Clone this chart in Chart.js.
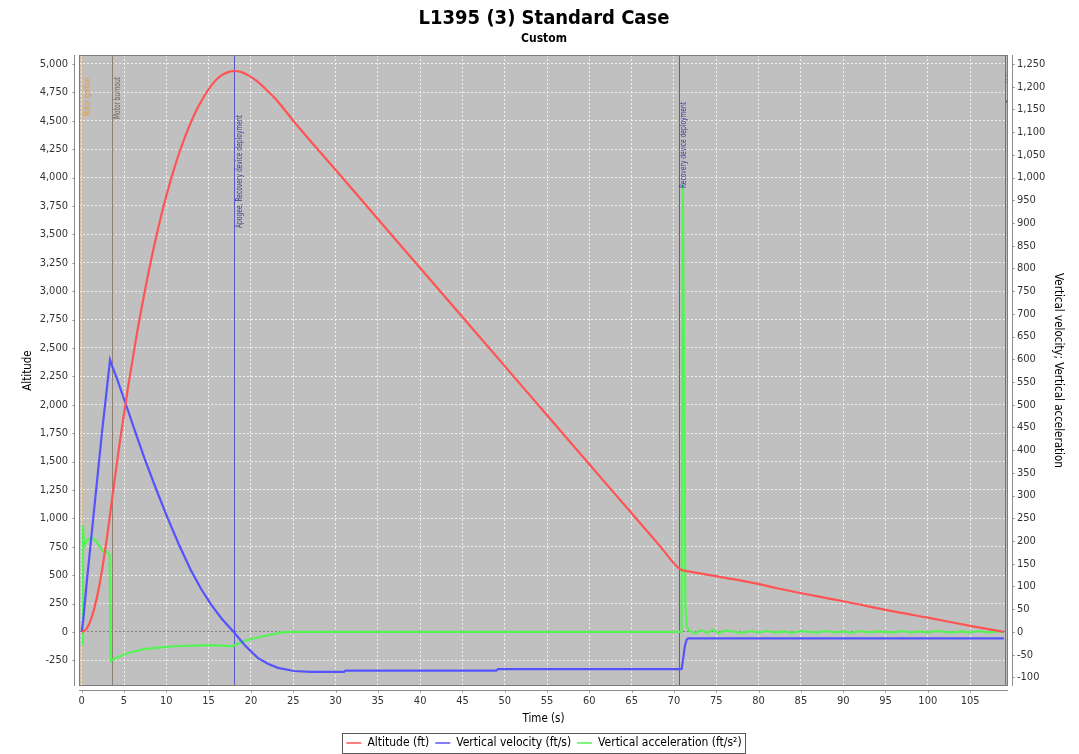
<!DOCTYPE html>
<html>
<head>
<meta charset="utf-8">
<title>L1395 (3) Standard Case</title>
<script src="https://cdn.jsdelivr.net/npm/chart.js@4.4.1/dist/chart.umd.min.js"></script>
<style>
  html, body { margin: 0; padding: 0; background: #ffffff; }
  #wrap { width: 1079px; height: 754px; }
</style>
</head>
<body>
<div id="wrap"><canvas id="flight" width="1079" height="754"></canvas></div>
<script>
  // --- Data ---
  var altTime = [0, 0.5, 1.0, 1.5, 2.0, 2.5, 3.0, 3.5, 4.0, 4.5, 5.5, 6.5, 7.5, 8.5, 9.5,
    10.5, 11.5, 12.5, 13.5, 14.5, 15.5, 16.5, 17.5, 18.05, 18.8, 19.8, 20.8, 22, 23.2, 25.1,
    30, 35, 40, 45, 50, 55, 60, 65, 68.3, 70.7, 71.2, 72.9, 75.4, 80.1, 82.3, 90, 96.7, 100, 105, 109];
  var altValues = [0, 20, 90, 210, 375, 590, 840, 1120, 1400, 1670, 2165, 2615, 3015, 3378, 3696,
    3973, 4212, 4414, 4583, 4720, 4827, 4899, 4933, 4938, 4930, 4895, 4844, 4760, 4668, 4491,
    4068, 3636, 3204, 2772, 2340, 1908, 1476, 1044, 760, 553, 540, 518, 485, 421, 382, 270, 170, 126, 53, 0];

  var velTime = [0, 0.2, 0.6, 1.2, 1.8, 2.4, 3.0, 3.35, 3.6, 4.2, 5.24, 6.3, 7.4, 8.8, 10.17,
    11.5, 12.9, 14.1, 15.3, 16.6, 17.97, 19.3, 20.8, 22, 23.2, 25.1, 27, 31, 31.2, 49,
    49.2, 70.9, 71.1, 71.3, 71.5, 71.7, 109];
  var velValues = [0, 30, 110, 220, 330, 440, 540, 599, 585, 556, 500, 442, 383, 314, 250,
    192, 136, 95, 60, 28, 0, -30, -57, -70, -79, -86, -88, -88, -85, -85,
    -82, -82, -57, -30, -17, -14, -14];

  var accTime = [0, 0.1, 0.15, 0.3, 0.6, 1.1, 1.7, 2.5, 3.1, 3.3, 3.42, 4.0, 5.05, 6.2, 7.4,
    9.3, 11.35, 13.3, 15.3, 17.85, 19.2, 20.4, 21.6, 22.6, 23.6, 25.1, 40, 55, 70.9, 71.05,
    71.25, 71.35, 71.5, 71.8, 72.5, 73.2, 73.9, 74.6, 75.3, 76,
    77, 78, 79, 80, 81, 82, 83, 84, 85, 86, 87, 88, 89, 90, 91, 92, 93, 94, 95, 96,
    97, 98, 99, 100, 101, 102, 103, 104, 105, 106, 107, 108, 109];
  var accValues = [-27, -27, 234, 190, 200, 208, 200, 178, 175, 170, -64, -58, -49, -43, -38,
    -34, -31, -30, -29, -31, -20, -14, -9, -5, -1, 0, 0, 0, 0, 985,
    400, 60, 13, 3, -3, 4, -2, 5, -3, 3,
    1, -2, 2, -1, 2, -1, 1, -2, 2, 0, -1, 2, -1, 1, -2, 2, -1, 1, 0, -1,
    2, -1, 1, -1, 2, 0, -1, 1, -1, 2, -1, 1, 0];

  // flight events (time in s)
  var eventTimes = [0, 3.59, 17.97, 70.54, 109.1];
  var eventNames = ['Motor ignition', 'Motor burnout', 'Apogee, Recovery device deployment',
    'Recovery device deployment', 'Ground hit'];

  // axis ticks
  var timeTicks = [0, 5, 10, 15, 20, 25, 30, 35, 40, 45, 50, 55, 60, 65, 70, 75, 80, 85, 90, 95, 100, 105];
  var altTicks = [-250, 0, 250, 500, 750, 1000, 1250, 1500, 1750, 2000, 2250, 2500, 2750, 3000,
    3250, 3500, 3750, 4000, 4250, 4500, 4750, 5000];
  var rateTicks = [-100, -50, 0, 50, 100, 150, 200, 250, 300, 350, 400, 450, 500, 550, 600, 650,
    700, 750, 800, 850, 900, 950, 1000, 1050, 1100, 1150, 1200, 1250];

  // --- Styling ---
  var FONT = '"DejaVu Sans Condensed", "DejaVu Sans", sans-serif';
  var evStyle = {
    line:  ['#f0b060', '#8c8074', '#5a5ac8', '#5a5ac8', '#707070'],
    text:  ['#e8983a', '#6a6058', '#3a3aa0', '#3a3a9a', '#505050'],
    dash:  [[2, 2], [], [], [], []],
    top:   [23, 22, 60, 47, 17],   // label end, px below plot top
    len:   [38, 42, 113, 86, 32]   // label length in px
  };

  function pts(xs, ys) {
    return xs.map(function (t, i) { return { x: t, y: ys[i] }; });
  }
  function fixTicks(list) {
    return function (scale) { scale.ticks = list.map(function (v) { return { value: v }; }); };
  }

  var decor = {
    id: 'decor',
    beforeDraw: function (chart) {
      var a = chart.chartArea, ctx = chart.ctx;
      ctx.save();
      ctx.fillStyle = '#ffffff';
      ctx.fillRect(0, 0, chart.width, chart.height);
      ctx.fillStyle = '#c0c0c0';
      ctx.fillRect(a.left, a.top, a.right - a.left, a.bottom - a.top);
      ctx.restore();
    },
    beforeDatasetsDraw: function (chart) {
      var a = chart.chartArea, ctx = chart.ctx, xs = chart.scales.x;
      ctx.save();
      ctx.beginPath();
      ctx.rect(a.left, a.top, a.right - a.left, a.bottom - a.top);
      ctx.clip();
      eventTimes.forEach(function (t, i) {
        var px = Math.round(xs.getPixelForValue(t)) + 0.5;
        ctx.strokeStyle = evStyle.line[i];
        ctx.lineWidth = 1;
        ctx.setLineDash(evStyle.dash[i]);
        ctx.beginPath();
        ctx.moveTo(px, a.top);
        ctx.lineTo(px, a.bottom);
        ctx.stroke();
      });
      ctx.restore();
    },
    afterDatasetsDraw: function (chart) {
      var a = chart.chartArea, ctx = chart.ctx, xs = chart.scales.x;
      ctx.save();
      ctx.beginPath();
      ctx.rect(a.left, a.top, a.right - a.left, a.bottom - a.top);
      ctx.clip();
      ctx.font = '9px ' + FONT;
      ctx.textAlign = 'right';
      ctx.textBaseline = 'middle';
      eventNames.forEach(function (name, i) {
        var px = xs.getPixelForValue(eventTimes[i]) + 5.5;
        var w = ctx.measureText(name).width;
        ctx.save();
        ctx.translate(px, a.top + evStyle.top[i]);
        ctx.rotate(-Math.PI / 2);
        ctx.scale(evStyle.len[i] / w, 1);
        ctx.fillStyle = evStyle.text[i];
        ctx.fillText(name, 0, 0);
        ctx.restore();
      });
      ctx.restore();
    },
    afterDraw: function (chart) {
      var a = chart.chartArea, ctx = chart.ctx, s = chart.scales;
      ctx.save();
      // plot outline
      ctx.strokeStyle = '#7c7c7c';
      ctx.lineWidth = 1;
      ctx.strokeRect(a.left + 0.5, a.top + 0.5, a.right - a.left - 1, a.bottom - a.top - 1);

      // offset axis lines with outward tick marks
      ctx.strokeStyle = '#8c8c8c';
      var lx = a.left - 4.5, rx = a.right + 4.5, by = a.bottom + 4.5;
      ctx.beginPath();
      ctx.moveTo(lx, a.top); ctx.lineTo(lx, a.bottom);
      ctx.moveTo(rx, a.top); ctx.lineTo(rx, a.bottom);
      ctx.moveTo(a.left, by); ctx.lineTo(a.right, by);
      s.y.ticks.forEach(function (t) {
        var py = Math.round(s.y.getPixelForValue(t.value)) + 0.5;
        ctx.moveTo(lx - 2, py); ctx.lineTo(lx, py);
      });
      s.y1.ticks.forEach(function (t) {
        var py = Math.round(s.y1.getPixelForValue(t.value)) + 0.5;
        ctx.moveTo(rx, py); ctx.lineTo(rx + 2, py);
      });
      s.x.ticks.forEach(function (t) {
        var px = Math.round(s.x.getPixelForValue(t.value)) + 0.5;
        ctx.moveTo(px, by); ctx.lineTo(px, by + 2);
      });
      ctx.stroke();

      // legend frame
      var boxes = chart.legend.legendHitBoxes;
      if (boxes && boxes.length) {
        var l = Infinity, r = -Infinity, tp = Infinity, bt = -Infinity;
        boxes.forEach(function (b) {
          l = Math.min(l, b.left); r = Math.max(r, b.left + b.width);
          tp = Math.min(tp, b.top); bt = Math.max(bt, b.top + b.height);
        });
        ctx.strokeStyle = '#555555';
        ctx.strokeRect(Math.round(l - 4) + 0.5, Math.round(tp - 4) + 0.5,
          Math.round(r - l + 8), Math.round(bt - tp + 8));
      }
      ctx.restore();
    }
  };

  var tickFont = { family: FONT, size: 11 };
  var titleFont = { family: FONT, size: 11.5 };

  new Chart(document.getElementById('flight'), {
    type: 'line',
    data: {
      datasets: [
        {
          label: 'Altitude (ft)',
          data: pts(altTime, altValues),
          yAxisID: 'y',
          borderColor: 'rgb(255,84,84)',
          borderWidth: 2.2,
          pointRadius: 0,
          cubicInterpolationMode: 'monotone'
        },
        {
          label: 'Vertical velocity (ft/s)',
          data: pts(velTime, velValues),
          yAxisID: 'y1',
          borderColor: 'rgb(84,84,255)',
          borderWidth: 2.2,
          pointRadius: 0,
          tension: 0
        },
        {
          label: 'Vertical acceleration (ft/s\u00b2)',
          data: pts(accTime, accValues),
          yAxisID: 'y1',
          borderColor: 'rgb(84,244,84)',
          borderWidth: 2.2,
          pointRadius: 0,
          tension: 0
        }
      ]
    },
    options: {
      responsive: false,
      animation: false,
      layout: { padding: { left: 0, right: -9, top: 0, bottom: -5 } },
      plugins: {
        title: {
          display: true,
          text: 'L1395 (3) Standard Case',
          color: '#000000',
          font: { family: FONT, size: 20, weight: 'bold' },
          padding: { top: 7, bottom: 0 }
        },
        subtitle: {
          display: true,
          text: 'Custom',
          color: '#000000',
          font: { family: FONT, size: 12, weight: 'bold' },
          padding: { top: 1, bottom: 8.6 }
        },
        legend: {
          position: 'bottom',
          labels: {
            color: '#000000',
            font: { family: FONT, size: 12 },
            usePointStyle: true,
            pointStyle: 'line',
            pointStyleWidth: 15,
            padding: 6,
            generateLabels: function (chart) {
              var items = Chart.defaults.plugins.legend.labels.generateLabels(chart);
              items.forEach(function (it) { it.lineWidth = 1.5; });
              return items;
            }
          }
        },
        tooltip: { enabled: false }
      },
      scales: {
        x: {
          type: 'linear',
          min: -0.32,
          max: 109.48,
          afterBuildTicks: fixTicks(timeTicks),
          afterFit: function (sc) { sc.height = 45; },
          grid: { color: 'rgba(255,255,255,0.75)', lineWidth: 1, drawTicks: false },
          border: { display: false, dash: [2, 2] },
          ticks: { color: '#333333', font: tickFont, padding: 9, maxRotation: 0 },
          title: { display: true, text: 'Time (s)', color: '#000000', font: titleFont, padding: { top: 0, bottom: 5 } }
        },
        y: {
          type: 'linear',
          position: 'left',
          min: -476,
          max: 5079,
          afterBuildTicks: fixTicks(altTicks),
          afterFit: function (sc) { sc.width = 79; },
          grid: {
            color: function (c) { return c.tick && c.tick.value === 0 ? 'rgba(120,120,120,0.9)' : 'rgba(255,255,255,0.75)'; },
            lineWidth: 1,
            drawTicks: false
          },
          border: { display: false, dash: [2, 2] },
          ticks: {
            color: '#333333', font: tickFont, padding: 11,
            callback: function (v) { return v.toLocaleString('en-US'); }
          },
          title: { display: true, text: 'Altitude', color: '#000000', font: titleFont, padding: { top: 21, bottom: 0 } }
        },
        y1: {
          type: 'linear',
          position: 'right',
          min: -119,
          max: 1269.75,
          afterBuildTicks: fixTicks(rateTicks),
          afterFit: function (sc) { sc.width = 80; },
          grid: { drawOnChartArea: false, drawTicks: false },
          border: { display: false },
          ticks: {
            color: '#333333', font: tickFont, padding: 9,
            callback: function (v) { return v.toLocaleString('en-US'); }
          },
          title: { display: true, text: 'Vertical velocity; Vertical acceleration', color: '#000000', font: titleFont, padding: { top: 23, bottom: 0 } }
        }
      }
    },
    plugins: [decor]
  });
</script>
</body>
</html>
